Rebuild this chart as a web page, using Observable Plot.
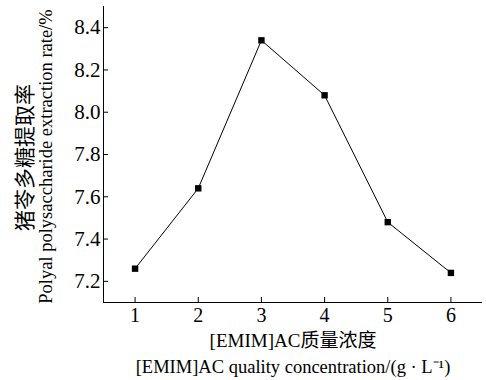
<!DOCTYPE html>
<html><head><meta charset="utf-8">
<script src="https://cdn.jsdelivr.net/npm/d3@7"></script>
<script src="https://cdn.jsdelivr.net/npm/@observablehq/plot@0.6"></script>
<style>
body{margin:0;background:#fff;} svg{display:block;}
</style>
</head><body><div id="chart"></div>
<script>
const concentrations = [1, 2, 3, 4, 5, 6];
const rates = [7.26, 7.64, 8.34, 8.08, 7.48, 7.24];
const xTicks = [1, 2, 3, 4, 5, 6];
const yTicks = [7.2, 7.4, 7.6, 7.8, 8.0, 8.2, 8.4];
const xTitle = ["[EMIM]AC质量浓度", "[EMIM]AC quality concentration/(g · L⁻¹)"];
const yTitle = ["猪苓多糖提取率", "Polyal polysaccharide extraction rate/%"];

const data = concentrations.map((c, i) => ({c, r: rates[i]}));
const font = "Liberation Serif, Noto Sans CJK SC, serif";

const chart = Plot.plot({
  width: 486, height: 380,
  marginLeft: 103, marginRight: 4, marginTop: 6, marginBottom: 78,
  style: {fontFamily: font, fontSize: "16px", color: "#000", background: "#fff"},
  x: {domain: [0.5, 6.5], ticks: xTicks},
  y: {domain: [7.1, 8.5], ticks: yTicks},
  marks: [
    Plot.axisX({ticks: xTicks, tickSize: -5, text: null, label: null}),
    Plot.axisY({ticks: yTicks, tickSize: -5, text: null, label: null}),
    Plot.text(xTicks, {x: d => d, frameAnchor: "bottom", lineAnchor: "top", dy: 5, text: d => String(d), fontSize: 20, fill: "#000", fontFamily: font}),
    Plot.text(yTicks, {y: d => d, frameAnchor: "left", textAnchor: "end", dx: -3, text: d => d.toFixed(1), fontSize: 21, fill: "#000", fontFamily: font}),
    Plot.ruleX([0.5], {stroke: "#000"}),
    Plot.ruleY([7.1], {stroke: "#000"}),
    Plot.line(data, {x: "c", y: "r", stroke: "#000", strokeWidth: 1}),
    Plot.dot(data, {x: "c", y: "r", symbol: "square", fill: "#000", r: 3.6}),
    Plot.text([xTitle[0]], {frameAnchor: "bottom", dy: 38, lineAnchor: "middle", fontSize: 19, fill: "#000", fontFamily: font}),
    Plot.text([xTitle[1]], {frameAnchor: "bottom", dy: 65, lineAnchor: "middle", fontSize: 18.5, fill: "#000", fontFamily: font}),
    Plot.text([yTitle[0]], {frameAnchor: "left", dx: -78, dy: 3, rotate: -90, textAnchor: "middle", lineAnchor: "middle", fontSize: 21, fill: "#000", fontFamily: font}),
    Plot.text([yTitle[1]], {frameAnchor: "left", dx: -57, dy: 2, rotate: -90, textAnchor: "middle", lineAnchor: "middle", fontSize: 18.5, fill: "#000", fontFamily: font})
  ]
});
document.getElementById("chart").appendChild(chart);
</script></body></html>
